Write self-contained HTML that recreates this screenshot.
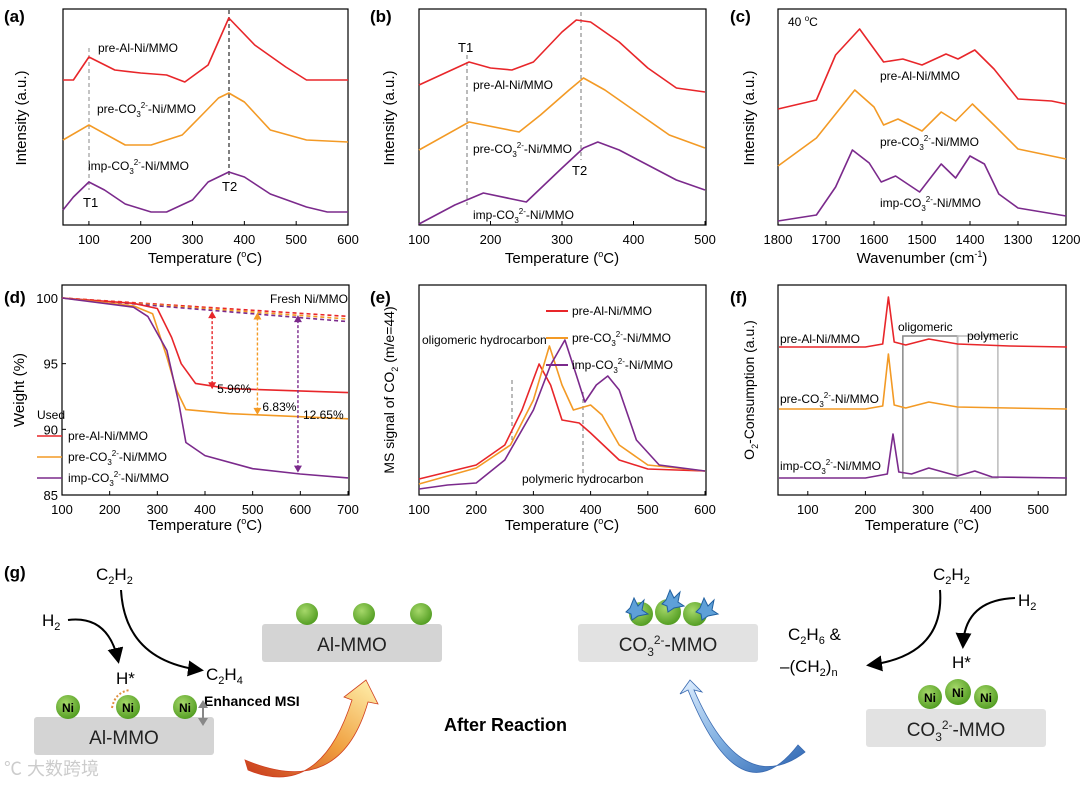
<!DOCTYPE html>
<html><head><meta charset="utf-8"><style>
body{margin:0;background:#fff;}
svg{display:block;font-family:"Liberation Sans",Arial,sans-serif;}
</style></head><body>
<svg id="fig" width="1080" height="787" viewBox="0 0 1080 787" xmlns="http://www.w3.org/2000/svg">
<defs>
<radialGradient id="ball" cx="0.4" cy="0.35" r="0.7"><stop offset="0" stop-color="#a6d86a"/><stop offset="1" stop-color="#4e9a1e"/></radialGradient>
<linearGradient id="orArrow" x1="0" y1="1" x2="1" y2="0"><stop offset="0" stop-color="#c8391c"/><stop offset="0.5" stop-color="#f0a040"/><stop offset="1" stop-color="#fff3b0"/></linearGradient>
<linearGradient id="blArrow" x1="1" y1="1" x2="0" y2="0"><stop offset="0" stop-color="#2a62b0"/><stop offset="0.5" stop-color="#7eaee0"/><stop offset="1" stop-color="#e0efff"/></linearGradient>
<marker id="ah" markerWidth="8" markerHeight="8" refX="6" refY="4" orient="auto"><path d="M0,0 L8,4 L0,8 Z" fill="#000"/></marker>
</defs>
<g id="plots"></g>
<g id="schem">
<text x="4" y="578" font-size="17" font-weight="bold">(g)</text>
<text x="96" y="580" font-size="17">C<tspan font-size="11" dy="4">2</tspan><tspan dy="-4">H</tspan><tspan font-size="11" dy="4">2</tspan></text>
<text x="42" y="626" font-size="17">H<tspan font-size="11" dy="4">2</tspan></text>
<path d="M68,620 Q108,615 118,660" fill="none" stroke="#000" stroke-width="2" marker-end="url(#ah)"/>
<path d="M121,590 Q125,660 200,670" fill="none" stroke="#000" stroke-width="2" marker-end="url(#ah)"/>
<text x="116" y="684" font-size="17">H*</text>
<text x="206" y="680" font-size="17">C<tspan font-size="11" dy="4">2</tspan><tspan dy="-4">H</tspan><tspan font-size="11" dy="4">4</tspan></text>
<text x="204" y="706" font-size="14" font-weight="bold">Enhanced MSI</text>
<rect x="34" y="717" width="180" height="38" rx="3" fill="#d4d4d4"/>
<text x="124" y="744" font-size="19" text-anchor="middle" fill="#222">Al-MMO</text>
<circle cx="68" cy="707" r="12" fill="url(#ball)"/><text x="68" y="712" font-size="12" font-weight="bold" text-anchor="middle">Ni</text>
<circle cx="128" cy="707" r="12" fill="url(#ball)"/><text x="128" y="712" font-size="12" font-weight="bold" text-anchor="middle">Ni</text>
<circle cx="185" cy="707" r="12" fill="url(#ball)"/><text x="185" y="712" font-size="12" font-weight="bold" text-anchor="middle">Ni</text>
<path d="M112,708 Q115,692 130,690" fill="none" stroke="#e09040" stroke-width="2" stroke-dasharray="2,2"/>
<path d="M203,700 L198,708 L208,708 Z M203,726 L198,718 L208,718 Z M202,708 h2 v10 h-2Z" fill="#888"/>
<text x="4" y="775" font-size="18" fill="#ccc">℃ 大数跨境</text>
<rect x="262" y="624" width="180" height="38" rx="3" fill="#d4d4d4"/>
<text x="352" y="651" font-size="19" text-anchor="middle" fill="#222">Al-MMO</text>
<circle cx="307" cy="614" r="11" fill="url(#ball)"/><circle cx="364" cy="614" r="11" fill="url(#ball)"/><circle cx="421" cy="614" r="11" fill="url(#ball)"/>
<path d="M248,770 Q320,800 352,700 L344,697 L366,680 L378,704 L368,702 Q340,800 245,760 Z" fill="url(#orArrow)" stroke="#d04020" stroke-width="0.8"/>
<text x="444" y="731" font-size="18" font-weight="bold">After Reaction</text>
<rect x="578" y="624" width="180" height="38" rx="3" fill="#e2e2e2"/>
<text x="668" y="651" font-size="19" text-anchor="middle" fill="#222">CO<tspan font-size="12" dy="5">3</tspan><tspan font-size="12" dy="-12">2-</tspan><tspan dy="7">-MMO</tspan></text>
<circle cx="641" cy="614" r="12" fill="url(#ball)"/><circle cx="668" cy="612" r="13" fill="url(#ball)"/><circle cx="695" cy="614" r="12" fill="url(#ball)"/>
<polygon points="630,608 634,598 638,606 644,600 642,610 648,614 638,616 632,620 631,614 626,612" fill="#5ea0d8" stroke="#2060a0"/>
<polygon points="666,600 670,590 674,598 680,592 678,602 684,606 674,608 668,612 667,606 662,604" fill="#5ea0d8" stroke="#2060a0"/>
<polygon points="700,608 704,598 708,606 714,600 712,610 718,614 708,616 702,620 701,614 696,612" fill="#5ea0d8" stroke="#2060a0"/>
<path d="M798,745 Q740,820 688,690 L680,694 L690,680 L702,692 L694,690 Q742,800 805,752 Z" fill="url(#blArrow)" stroke="#3a6ab0" stroke-width="0.8"/>
<text x="788" y="640" font-size="17">C<tspan font-size="11" dy="4">2</tspan><tspan dy="-4">H</tspan><tspan font-size="11" dy="4">6</tspan><tspan dy="-4"> &amp;</tspan></text>
<text x="780" y="672" font-size="17">‒(CH<tspan font-size="11" dy="4">2</tspan><tspan dy="-4">)</tspan><tspan font-size="11" dy="4">n</tspan></text>
<text x="933" y="580" font-size="17">C<tspan font-size="11" dy="4">2</tspan><tspan dy="-4">H</tspan><tspan font-size="11" dy="4">2</tspan></text>
<text x="1018" y="606" font-size="17">H<tspan font-size="11" dy="4">2</tspan></text>
<path d="M940,590 Q945,655 870,665" fill="none" stroke="#000" stroke-width="2" marker-end="url(#ah)"/>
<path d="M1015,598 Q965,600 963,645" fill="none" stroke="#000" stroke-width="2" marker-end="url(#ah)"/>
<text x="952" y="668" font-size="17">H*</text>
<rect x="866" y="709" width="180" height="38" rx="3" fill="#e2e2e2"/>
<text x="956" y="736" font-size="19" text-anchor="middle" fill="#222">CO<tspan font-size="12" dy="5">3</tspan><tspan font-size="12" dy="-12">2-</tspan><tspan dy="7">-MMO</tspan></text>
<circle cx="930" cy="697" r="12" fill="url(#ball)"/><text x="930" y="702" font-size="12" font-weight="bold" text-anchor="middle">Ni</text>
<circle cx="958" cy="692" r="13" fill="url(#ball)"/><text x="958" y="697" font-size="12" font-weight="bold" text-anchor="middle">Ni</text>
<circle cx="986" cy="697" r="12" fill="url(#ball)"/><text x="986" y="702" font-size="12" font-weight="bold" text-anchor="middle">Ni</text>
</g>
</svg>
<script>
// ---- data ----
const aTemps=[50,70,100,150,200,250,285,330,370,420,480,520,600];
const aRed=[152,152,175,162,159,157,150,167,214,187,165,152,152];
const aOrangeT=[50,100,170,220,280,320,350,370,400,450,520,600];
const aOrange=[92,107,87,87,97,118,134,139,130,102,92,90];
const aPurpleT=[50,70,100,130,170,220,250,300,330,370,400,450,520,560,600];
const aPurple=[22,35,50,42,28,20,20,32,50,60,55,38,25,20,20];
const bRedT=[100,170,200,230,260,300,320,340,380,420,460,500];
const bRed=[140,163,157,155,163,193,205,203,183,157,137,133];
const bOrangeT=[100,170,240,270,310,330,360,400,450,500];
const bOrange=[75,103,93,110,135,147,135,115,90,77];
const bPurpleT=[100,150,190,250,300,330,350,380,420,460,500];
const bPurple=[1,20,32,23,57,77,83,75,60,45,35];
const cWaveR=[1800,1720,1680,1630,1580,1540,1500,1450,1425,1390,1350,1300,1230,1200];
const cRed=[116,125,170,196,163,166,160,171,166,175,156,126,124,121];
const cWaveO=[1800,1720,1680,1640,1600,1580,1550,1500,1460,1430,1395,1350,1300,1200];
const cOrange=[59,87,111,135,118,100,106,94,113,104,121,100,76,66];
const cWaveP=[1800,1720,1680,1645,1610,1585,1555,1505,1460,1430,1400,1370,1340,1300,1200];
const cPurple=[4,10,38,75,62,43,49,33,61,47,69,61,31,17,9];
const dTempsR=[100,250,300,330,350,380,450,700];
const dRed=[100,99.6,99.2,97,95,93.5,93.1,92.8];
const dTempsO=[100,250,290,320,340,360,450,700];
const dOrange=[100,99.4,98.8,95.5,93,91.5,91.2,90.8];
const dTempsP=[100,250,280,320,345,360,400,500,600,700];
const dPurple=[100,99.3,98.6,96,92,89,88,87,86.6,86.3];
const dFreshEnd=[98.6,98.4,98.2];
const dTicksX=[100,200,300,400,500,600,700];
const dTicksY=[85,90,95,100];
const eTempsR=[100,200,250,280,310,330,350,380,400,450,500,600];
const eRed=[16,30,50,85,131,110,75,72,62,35,26,24];
const eTempsO=[100,200,260,300,328,350,370,400,420,450,500,600];
const eOrange=[11,27,50,95,149,110,85,90,80,50,30,24];
const eTempsP=[100,150,200,250,300,330,355,375,390,410,430,450,480,520,600];
const ePurple=[6,10,12,35,85,130,155,120,93,110,119,105,55,30,24];
const fTempsR=[50,200,230,240,250,270,310,360,450,550];
const fRed=[0,0,3,50,5,2,8,3,1,0];
const fTempsO=[50,200,230,240,250,270,310,360,450,550];
const fOrange=[0,0,3,55,4,1,7,2,1,0];
const fTempsP=[50,200,238,248,258,280,310,360,390,420,550];
const fPurple=[0,0,4,44,6,4,10,2,7,1,0];

const RED='#e8262a',ORG='#f39a25',PUR='#7b2a8c';
const NS='http://www.w3.org/2000/svg';
const root=document.getElementById('plots');
function el(tag,attrs,parent){const e=document.createElementNS(NS,tag);for(const k in attrs)e.setAttribute(k,attrs[k]);(parent||root).appendChild(e);return e;}
function txt(x,y,s,size,parent,anchor,extra){const t=el('text',Object.assign({x:x,y:y,'font-size':size,'text-anchor':anchor||'start'},extra||{}),parent);t.innerHTML=s;return t;}
function scale(d0,d1,r0,r1){return v=>r0+(v-d0)*(r1-r0)/(d1-d0);}
function line(xs,ys,sx,sy,color,g,name,dash){const p=el('path',{d:xs.map((x,i)=>(i?'L':'M')+sx(x).toFixed(1)+','+sy(ys[i]).toFixed(1)).join(''),fill:'none',stroke:color,'stroke-width':1.6,'stroke-linejoin':'round'},g);


if(dash)p.setAttribute('stroke-dasharray',dash);return p;}
function axes(g,x0,y0,x1,y1,sx,ticks,labels){el('rect',{x:x0,y:y0,width:x1-x0,height:y1-y0,fill:'none',stroke:'#000','stroke-width':1.2},g);
ticks.forEach((t,i)=>{const x=sx(t);el('line',{x1:x,y1:y1,x2:x,y2:y1-4,stroke:'#000'},g);txt(x,y1+19,labels[i],13,g,'middle');});}
const CO3='CO<tspan font-size="8" dy="4">3</tspan><tspan font-size="8" dy="-9">2-</tspan><tspan dy="5">-Ni/MMO</tspan>';
const TT='Temperature (<tspan font-size="9" dy="-6">o</tspan><tspan dy="6">C)</tspan>';
function panel(name){const g=el('g',{});

return g;}
const TB=225, BT=285, BB=495;

// (a)
{const g=panel('panel-a');const sx=scale(50,600,63,348),sy=v=>232-v;
txt(4,22,'(a)',17,g,'start',{'font-weight':'bold'});
axes(g,63,9,348,TB,sx,[100,200,300,400,500,600],['100','200','300','400','500','600']);
txt(205,263,TT,15,g,'middle');
txt(0,0,'Intensity (a.u.)',15,g,'middle',{transform:'translate(26,118) rotate(-90)'});
el('line',{x1:89,y1:48,x2:89,y2:190,stroke:'#888','stroke-dasharray':'4,3'},g);
el('line',{x1:229,y1:10,x2:229,y2:175,stroke:'#555','stroke-dasharray':'4,3','stroke-width':1.5},g);
line(aTemps,aRed,sx,sy,RED,g,'a-pre-al-curve');line(aOrangeT,aOrange,sx,sy,ORG,g,'a-pre-co3-curve');line(aPurpleT,aPurple,sx,sy,PUR,g,'a-imp-co3-curve');
txt(98,52,'pre-Al-Ni/MMO',12,g);txt(97,113,'pre-'+CO3,12,g);txt(88,170,'imp-'+CO3,12,g);
txt(83,207,'T1',13,g);txt(222,191,'T2',13,g);}
// (b)
{const g=panel('panel-b');const sx=scale(100,500,419,705),sy=v=>TB-v;
txt(370,22,'(b)',17,g,'start',{'font-weight':'bold'});
axes(g,419,9,706,TB,sx,[100,200,300,400,500],['100','200','300','400','500']);
txt(562,263,TT,15,g,'middle');
txt(0,0,'Intensity (a.u.)',15,g,'middle',{transform:'translate(394,118) rotate(-90)'});
el('line',{x1:467,y1:55,x2:467,y2:205,stroke:'#777','stroke-dasharray':'4,3'},g);
el('line',{x1:581,y1:12,x2:581,y2:160,stroke:'#777','stroke-dasharray':'4,3'},g);
line(bRedT,bRed,sx,sy,RED,g,'b-pre-al-curve');line(bOrangeT,bOrange,sx,sy,ORG,g,'b-pre-co3-curve');line(bPurpleT,bPurple,sx,sy,PUR,g,'b-imp-co3-curve');
txt(458,52,'T1',13,g);txt(473,89,'pre-Al-Ni/MMO',12,g);txt(473,153,'pre-'+CO3,12,g);txt(572,175,'T2',13,g);txt(473,219,'imp-'+CO3,12,g);}
// (c)
{const g=panel('panel-c');const sx=scale(1800,1200,778,1066),sy=v=>TB-v;
txt(730,22,'(c)',17,g,'start',{'font-weight':'bold'});
axes(g,778,9,1066,TB,sx,[1800,1700,1600,1500,1400,1300,1200],['1800','1700','1600','1500','1400','1300','1200']);
txt(922,263,'Wavenumber (cm<tspan font-size="9" dy="-6">-1</tspan><tspan dy="6">)</tspan>',15,g,'middle');
txt(0,0,'Intensity (a.u.)',15,g,'middle',{transform:'translate(754,118) rotate(-90)'});
line(cWaveR,cRed,sx,sy,RED,g,'c-pre-al-curve');line(cWaveO,cOrange,sx,sy,ORG,g,'c-pre-co3-curve');line(cWaveP,cPurple,sx,sy,PUR,g,'c-imp-co3-curve');
txt(788,26,'40 <tspan font-size="8" dy="-5">o</tspan><tspan dy="5">C</tspan>',12,g);
txt(880,80,'pre-Al-Ni/MMO',12,g);txt(880,146,'pre-'+CO3,12,g);txt(880,207,'imp-'+CO3,12,g);}
// (d)
{const g=panel('panel-d');const sx=scale(100,700,62,348),sy=scale(100,85,298,BB);
txt(4,303,'(d)',17,g,'start',{'font-weight':'bold'});
axes(g,62,BT,349,BB,sx,dTicksX,dTicksX.map(String));
dTicksY.forEach(t=>{el('line',{x1:62,y1:sy(t),x2:66,y2:sy(t),stroke:'#000'},g);txt(58,sy(t)+5,String(t),13,g,'end');});
txt(205,530,TT,15,g,'middle');
txt(0,0,'Weight (%)',15,g,'middle',{transform:'translate(24,390) rotate(-90)'});
[RED,ORG,PUR].forEach((c,i)=>line([100,700],[100,dFreshEnd[i]],sx,sy,c,g,'d-fresh-dashed-'+i,'4,3'));
line(dTempsR,dRed,sx,sy,RED,g,'d-pre-al-curve');line(dTempsO,dOrange,sx,sy,ORG,g,'d-pre-co3-curve');line(dTempsP,dPurple,sx,sy,PUR,g,'d-imp-co3-curve');
[[415,RED,99.0,93.05,'5.96%'],[510,ORG,98.9,91.1,'6.83%'],[595,PUR,98.7,86.7,'12.65%']].forEach((a,i)=>{const x=sx(a[0]);
el('line',{x1:x,y1:sy(a[2])+5,x2:x,y2:sy(a[3])-5,stroke:a[1],'stroke-dasharray':'3,2','stroke-width':1.4},g);
el('path',{d:`M${x-4},${sy(a[2])+7}L${x},${sy(a[2])}L${x+4},${sy(a[2])+7}ZM${x-4},${sy(a[3])-7}L${x},${sy(a[3])}L${x+4},${sy(a[3])-7}Z`,fill:a[1]},g);
txt(x+5,[393,411,419][i],a[4],12,g);});
txt(270,303,'Fresh Ni/MMO',12,g);
txt(37,419,'Used',12,g);
[['pre-Al-Ni/MMO',RED],['pre-'+CO3,ORG],['imp-'+CO3,PUR]].forEach((l,i)=>{const y=436+i*21;el('line',{x1:37,y1:y,x2:62,y2:y,stroke:l[1],'stroke-width':1.6},g);txt(68,y+4,l[0],12,g);});}
// (e)
{const g=panel('panel-e');const sx=scale(100,600,419,705),sy=v=>BB-v;
txt(370,303,'(e)',17,g,'start',{'font-weight':'bold'});
axes(g,419,BT,706,BB,sx,[100,200,300,400,500,600],['100','200','300','400','500','600']);
txt(562,530,TT,15,g,'middle');
txt(0,0,'MS signal of CO<tspan font-size="9" dy="4">2</tspan><tspan dy="-4"> (m/e=44)</tspan>',14,g,'middle',{transform:'translate(394,390) rotate(-90)'});
el('line',{x1:512,y1:380,x2:512,y2:440,stroke:'#777','stroke-dasharray':'4,3'},g);
el('line',{x1:583,y1:392,x2:583,y2:478,stroke:'#777','stroke-dasharray':'4,3'},g);
line(eTempsR,eRed,sx,sy,RED,g,'e-pre-al-curve');line(eTempsO,eOrange,sx,sy,ORG,g,'e-pre-co3-curve');line(eTempsP,ePurple,sx,sy,PUR,g,'e-imp-co3-curve');
txt(422,344,'oligomeric hydrocarbon',12,g);txt(522,483,'polymeric hydrocarbon',12,g);
[['pre-Al-Ni/MMO',RED],['pre-'+CO3,ORG],['imp-'+CO3,PUR]].forEach((l,i)=>{const y=311+i*27;el('line',{x1:546,y1:y,x2:568,y2:y,stroke:l[1],'stroke-width':2},g);txt(572,y+4,l[0],12,g);});}
// (f)
{const g=panel('panel-f');const sx=scale(50,550,779,1067);
txt(730,303,'(f)',17,g,'start',{'font-weight':'bold'});
axes(g,778,BT,1066,BB,sx,[100,200,300,400,500],['100','200','300','400','500']);
txt(922,530,TT,15,g,'middle');
txt(0,0,'O<tspan font-size="9" dy="4">2</tspan><tspan dy="-4">-Consumption (a.u.)</tspan>',14,g,'middle',{transform:'translate(754,390) rotate(-90)'});
el('rect',{x:sx(265),y:336,width:sx(360)-sx(265),height:142,fill:'none',stroke:'#888','stroke-width':1.5},g);
el('rect',{x:sx(360),y:336,width:sx(430)-sx(360),height:142,fill:'none',stroke:'#bbb','stroke-width':1.5},g);
line(fTempsR,fRed,sx,v=>347-v,RED,g,'f-pre-al-curve');line(fTempsO,fOrange,sx,v=>409-v,ORG,g,'f-pre-co3-curve');line(fTempsP,fPurple,sx,v=>478-v,PUR,g,'f-imp-co3-curve');
txt(898,331,'oligomeric',12,g);txt(967,340,'polymeric',12,g);
txt(780,343,'pre-Al-Ni/MMO',12,g);txt(780,403,'pre-'+CO3,12,g);txt(780,470,'imp-'+CO3,12,g);}
</script>
</body></html>
